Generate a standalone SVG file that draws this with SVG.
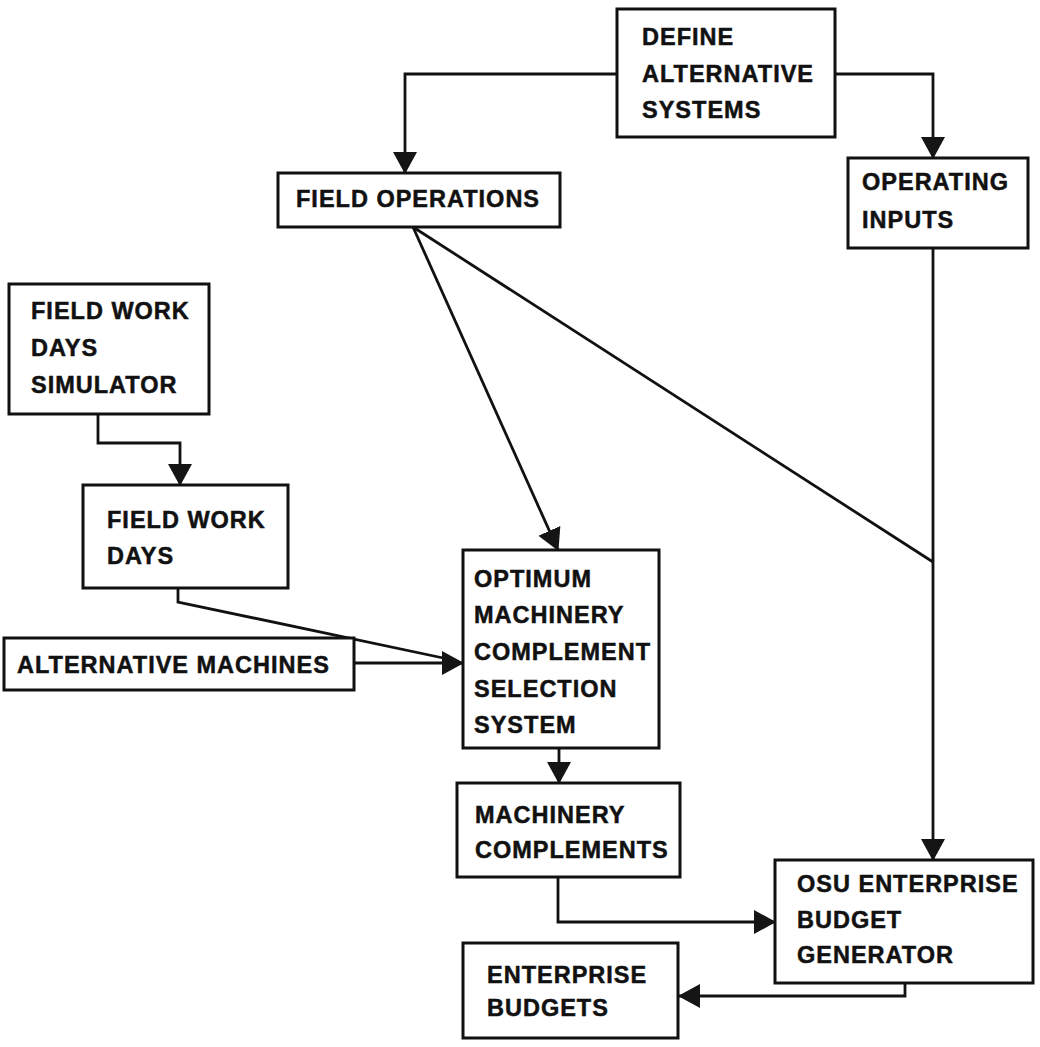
<svg xmlns="http://www.w3.org/2000/svg" width="1040" height="1047" viewBox="0 0 1040 1047">
<style>
.box{fill:#fff;stroke:#111;stroke-width:3}
.t{font-family:"Liberation Sans",Arial,sans-serif;font-weight:bold;font-size:23.5px;letter-spacing:1px;fill:#111;stroke:#111;stroke-width:0.5}
.c{fill:none;stroke:#111;stroke-width:2.8}
</style>
<defs>
<marker id="ah" markerUnits="userSpaceOnUse" markerWidth="24" markerHeight="26" refX="21" refY="12" orient="auto" viewBox="0 0 24 24">
<path d="M0,0 L22,12 L0,24 z" fill="#151515"/>
</marker>
</defs>
<rect width="1040" height="1047" fill="#fff"/>
<g id="connectors">
<path class="c" d="M617,74 H405 V173" marker-end="url(#ah)"/>
<path class="c" d="M835,74 H933 V158" marker-end="url(#ah)"/>
<path class="c" d="M413,227 L558,550" marker-end="url(#ah)"/>
<path class="c" d="M413,227 L933,562"/>
<path class="c" d="M933,248 V860" marker-end="url(#ah)"/>
<path class="c" d="M98,414 V443 H180 V485" marker-end="url(#ah)"/>
<path class="c" d="M178,588 V602 L448,659"/>
<path class="c" d="M354,663 H463" marker-end="url(#ah)"/>
<path class="c" d="M559,748 V783" marker-end="url(#ah)"/>
<path class="c" d="M558,877 V922 H775" marker-end="url(#ah)"/>
<path class="c" d="M905,983 V996 H679" marker-end="url(#ah)"/>
</g>
<g id="define">
<rect class="box" x="617" y="9" width="218" height="128"/>
<text class="t" x="642" y="45">DEFINE</text>
<text class="t" x="642" y="82">ALTERNATIVE</text>
<text class="t" x="642" y="118">SYSTEMS</text>
</g>
<g id="fieldops">
<rect class="box" x="278" y="173" width="282" height="54"/>
<text class="t" x="296" y="207">FIELD OPERATIONS</text>
</g>
<g id="opinputs">
<rect class="box" x="848" y="158" width="180" height="90"/>
<text class="t" x="862" y="190">OPERATING</text>
<text class="t" x="862" y="228">INPUTS</text>
</g>
<g id="fwdsim">
<rect class="box" x="9" y="284" width="200" height="130"/>
<text class="t" x="31" y="319">FIELD WORK</text>
<text class="t" x="31" y="356">DAYS</text>
<text class="t" x="31" y="393">SIMULATOR</text>
</g>
<g id="fwd">
<rect class="box" x="83" y="485" width="205" height="103"/>
<text class="t" x="107" y="528">FIELD WORK</text>
<text class="t" x="107" y="564">DAYS</text>
</g>
<g id="altmach">
<rect class="box" x="4" y="638" width="350" height="52"/>
<text class="t" x="17" y="673">ALTERNATIVE MACHINES</text>
</g>
<g id="optimum">
<rect class="box" x="463" y="550" width="196" height="198"/>
<text class="t" x="474" y="587">OPTIMUM</text>
<text class="t" x="474" y="623">MACHINERY</text>
<text class="t" x="474" y="660">COMPLEMENT</text>
<text class="t" x="474" y="697">SELECTION</text>
<text class="t" x="474" y="733">SYSTEM</text>
</g>
<g id="machcomp">
<rect class="box" x="457" y="783" width="223" height="94"/>
<text class="t" x="475" y="823">MACHINERY</text>
<text class="t" x="475" y="858">COMPLEMENTS</text>
</g>
<g id="osu">
<rect class="box" x="775" y="860" width="258" height="123"/>
<text class="t" x="797" y="892">OSU ENTERPRISE</text>
<text class="t" x="797" y="928">BUDGET</text>
<text class="t" x="797" y="963">GENERATOR</text>
</g>
<g id="entbudgets">
<rect class="box" x="463" y="943" width="215" height="95"/>
<text class="t" x="487" y="983">ENTERPRISE</text>
<text class="t" x="487" y="1016">BUDGETS</text>
</g>
</svg>
